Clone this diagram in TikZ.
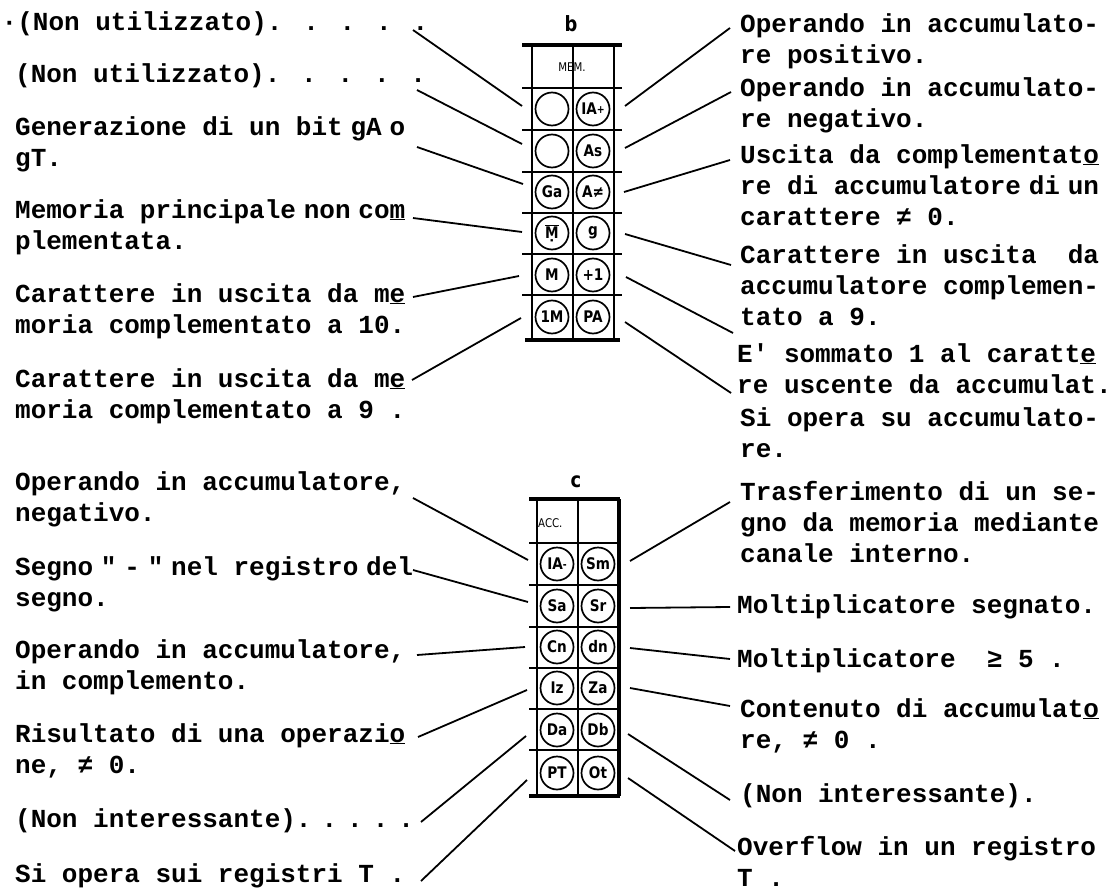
\documentclass[tikz,border=0pt]{standalone}
\usepackage{fontspec}
\newfontfamily\tw{Liberation Mono}
\newfontfamily\cf{DejaVu Sans}[FakeStretch=0.85]
\newcommand\hs{\hspace{7.8pt}}
\newcommand\ds{\hspace{10pt}}
\newcommand\ulx[1]{\underline{#1}}
\begin{document}
\begin{tikzpicture}[x=1pt,y=-1pt]
\tikzset{
 desc/.style={anchor=base west, align=left, inner sep=0pt, font=\tw\bfseries\fontsize{26}{31}\selectfont},
 conn/.style={line width=1.8pt},
 gridln/.style={line width=1.3pt},
 gridbd/.style={line width=3.3pt},
 cell/.style={circle, draw, line width=1.7pt, minimum size=33pt, inner sep=0pt, font=\cf\bfseries\fontsize{16}{16}\selectfont},
 hdr/.style={font=\cf\fontsize{12}{12}\selectfont, inner sep=0pt},
 ttl/.style={font=\cf\bfseries\fontsize{21}{21}\selectfont, inner sep=0pt, anchor=base}
}
\useasboundingbox (0,0) rectangle (1111,888);
\fill[white] (0,0) rectangle (1111,888);

% ---------- panel b ----------
\node[ttl] (tb) at (571,32) {b};
\draw[gridbd] (522,45) -- (622,45);
\draw[gridbd] (525,340) -- (620,340);
\foreach \x in {532,573,614} \draw[gridln] (\x,45) -- (\x,340);
\foreach \y in {88,130,172,213,254,295} \draw[gridln] (522,\y) -- (622,\y);
\node[hdr, anchor=base] (mem) at (572,72) {MEM.};

\node[cell] (b1l) at (552,109) {};
\node[cell] (b1r) at (593,109) {IA\raisebox{1pt}{\fontsize{11}{11}\selectfont+}};
\node[cell] (b2l) at (552,151) {};
\node[cell] (b2r) at (593,151) {As};
\node[cell] (b3l) at (552,192) {Ga};
\node[cell] (b3r) at (593,192) {A≠};
\node[cell] (b4l) at (552,233) {$\overline{\mbox{\cf\bfseries\d{M}}}$};
\node[cell] (b4r) at (593,233) {g};
\node[cell] (b5l) at (552,275) {M};
\node[cell] (b5r) at (593,275) {+1};
\node[cell] (b6l) at (552,317) {1M};
\node[cell] (b6r) at (593,317) {PA};

% ---------- panel c ----------
\node[ttl] (tc) at (576,487) {c};
\draw[gridbd] (529,499) -- (620,499);
\draw[gridbd] (529,796) -- (620,796);
\draw[gridbd] (619,499) -- (619,796);
\foreach \x in {537,578} \draw[gridln] (\x,499) -- (\x,796);
\foreach \y in {543,585,627,668,709,750} \draw[gridln] (529,\y) -- (619,\y);
\node[hdr, anchor=base west] (acc) at (538,527) {ACC.};

\node[cell] (c1l) at (557,564) {IA\raisebox{1pt}{\fontsize{11}{11}\selectfont-}};
\node[cell] (c1r) at (598,564) {Sm};
\node[cell] (c2l) at (557,606) {Sa};
\node[cell] (c2r) at (598,606) {Sr};
\node[cell] (c3l) at (557,647) {Cn};
\node[cell] (c3r) at (598,647) {dn};
\node[cell] (c4l) at (557,688) {Iz};
\node[cell] (c4r) at (598,688) {Za};
\node[cell] (c5l) at (557,730) {Da};
\node[cell] (c5r) at (598,730) {Db};
\node[cell] (c6l) at (557,773) {PT};
\node[cell] (c6r) at (598,773) {Ot};

% ---------- left texts b (anchor = baseline of last line) ----------
\node[desc] (lb1) at (1.5,31) {·(Non utilizzato). . . . .};
\node[desc] (lb2) at (15,83) {(Non utilizzato). . . . .};
\node[desc] (lb3) at (15,166) {Generazione di un bit\hs gA\hs o\\gT.};
\node[desc] (lb4) at (15,249) {Memoria principale\hs non\hs co\ulx{m}\\plementata.};
\node[desc] (lb5) at (15,333) {Carattere in uscita da m\ulx{e}\\moria complementato a 10.};
\node[desc] (lb6) at (15,418) {Carattere in uscita da m\ulx{e}\\moria complementato a 9 .};

% ---------- right texts b ----------
\node[desc] (rb1) at (740,64) {Operando in accumulato-\\re positivo.};
\node[desc] (rb2) at (740,128) {Operando in accumulato-\\re negativo.};
\node[desc] (rb3) at (740,225) {Uscita da complementat\ulx{o}\\re di accumulatore\hs di\hs un\\carattere ≠ 0.};
\node[desc] (rb4) at (740,325) {Carattere in uscita\ \ da\\accumulatore complemen-\\tato a 9.};
\node[desc] (rb5) at (737,393) {E' sommato 1 al caratt\ulx{e}\\re uscente da accumulat.};
\node[desc] (rb6) at (740,457) {Si opera su accumulato-\\re.};

% ---------- left texts c ----------
\node[desc] (lc1) at (15,521) {Operando in accumulatore,\\negativo.};
\node[desc] (lc2) at (15,606) {Segno\hs"\hs-\hs"\hs nel registro\hs del\\segno.};
\node[desc] (lc3) at (15,689) {Operando in accumulatore,\\in complemento.};
\node[desc] (lc4) at (15,773) {Risultato di una operazi\ulx{o}\\ne, ≠ 0.};
\node[desc] (lc5) at (15,827) {(Non interessante).\ds.\ds.\ds.\ds.};
\node[desc] (lc6) at (15,882) {Si opera sui registri T .};

% ---------- right texts c ----------
\node[desc] (rc1) at (740,562) {Trasferimento di un se-\\gno da memoria mediante\\canale interno.};
\node[desc] (rc2) at (737,613) {Moltiplicatore segnato.};
\node[desc] (rc3) at (737,667) {Moltiplicatore\ \ ≥ 5 .};
\node[desc] (rc4) at (740,748) {Contenuto di accumulat\ulx{o}\\re, ≠ 0 .};
\node[desc] (rc5) at (740,802) {(Non interessante).};
\node[desc] (rc6) at (737,886) {Overflow in un registro\\T .};

% ---------- connector end points ----------
\coordinate (lb1a) at (413,30);  \coordinate (lb1b) at (522,106);
\coordinate (lb2a) at (417,90);  \coordinate (lb2b) at (522,144);
\coordinate (lb3a) at (417,147); \coordinate (lb3b) at (523,184);
\coordinate (lb4a) at (413,218); \coordinate (lb4b) at (522,232);
\coordinate (lb5a) at (413,297); \coordinate (lb5b) at (519,276);
\coordinate (lb6a) at (412,380); \coordinate (lb6b) at (521,318);

\coordinate (rb1a) at (625,106); \coordinate (rb1b) at (730,28);
\coordinate (rb2a) at (625,148); \coordinate (rb2b) at (731,92);
\coordinate (rb3a) at (624,192); \coordinate (rb3b) at (730,160);
\coordinate (rb4a) at (625,234); \coordinate (rb4b) at (731,265);
\coordinate (rb5a) at (626,277); \coordinate (rb5b) at (733,333);
\coordinate (rb6a) at (625,322); \coordinate (rb6b) at (731,393);

\coordinate (lc1a) at (413,498); \coordinate (lc1b) at (528,560);
\coordinate (lc2a) at (413,570); \coordinate (lc2b) at (528,602);
\coordinate (lc3a) at (417,655); \coordinate (lc3b) at (525,647);
\coordinate (lc4a) at (418,737); \coordinate (lc4b) at (527,690);
\coordinate (lc5a) at (421,822); \coordinate (lc5b) at (526,736);
\coordinate (lc6a) at (421,881); \coordinate (lc6b) at (527,780);

\coordinate (rc1a) at (630,561); \coordinate (rc1b) at (730,502);
\coordinate (rc2a) at (630,608); \coordinate (rc2b) at (730,607);
\coordinate (rc3a) at (630,648); \coordinate (rc3b) at (730,659);
\coordinate (rc4a) at (630,688); \coordinate (rc4b) at (730,706);
\coordinate (rc5a) at (628,734); \coordinate (rc5b) at (730,800);
\coordinate (rc6a) at (628,778); \coordinate (rc6b) at (735,851);

\foreach \n in {lb1,lb2,lb3,lb4,lb5,lb6,rb1,rb2,rb3,rb4,rb5,rb6,lc1,lc2,lc3,lc4,lc5,lc6,rc1,rc2,rc3,rc4,rc5,rc6}
  \draw[conn] (\n a) -- (\n b);
\end{tikzpicture}
\end{document}
